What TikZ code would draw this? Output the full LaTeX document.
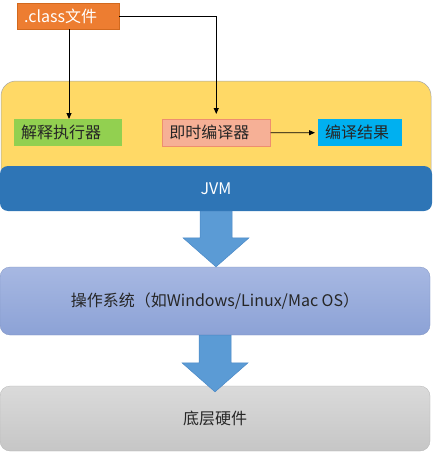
\documentclass[tikz,border=0pt]{standalone}
\usepackage{fontspec}
\setmainfont{Noto Sans CJK SC}
\usetikzlibrary{arrows.meta,calc}
\definecolor{cOrange}{HTML}{ED7D31}
\definecolor{cOrangeD}{HTML}{D2691E}
\definecolor{cYellow}{HTML}{FFD966}
\definecolor{cJVM}{HTML}{2E75B6}
\definecolor{cGreen}{HTML}{92D050}
\definecolor{cSalmon}{HTML}{F6B096}
\definecolor{cSalmonD}{HTML}{EE8E6F}
\definecolor{cCyan}{HTML}{00B0F0}
\definecolor{cArrow}{HTML}{5B9BD5}
\definecolor{cArrowD}{HTML}{4A88C6}
\definecolor{cOSt}{HTML}{A7B8E2}
\definecolor{cOSb}{HTML}{8CA2D6}
\definecolor{cHWt}{HTML}{DADADA}
\definecolor{cHWb}{HTML}{C6C6C6}
\definecolor{cText}{HTML}{262626}
\tikzset{
  smallbox/.style={anchor=north west, inner xsep=7pt, inner ysep=0pt, minimum height=27pt, align=left, font=\fontsize{16}{18}\selectfont, text=cText},
  layer/.style={rounded corners=10pt, inner sep=0pt, font=\fontsize{16}{18}\selectfont, text=cText},
  arr/.style={draw=black, line width=0.9pt, -{Triangle[length=6pt,width=5pt]}},
  fat/.style={fill=cArrow, draw=cArrowD, line width=0.5pt}
}
\newcommand\fatarr[2]{%
  \path[fat] ($(#1)+(-16,0)$) -- ($(#2)+(-16,-29)$) -- ($(#2)+(-33,-29)$) -- (#2)
    -- ($(#2)+(33,-29)$) -- ($(#2)+(16,-29)$) -- ($(#1)+(16,0)$) -- cycle;}
\begin{document}
\begin{tikzpicture}[x=1pt,y=-1pt]
\useasboundingbox (0,0) rectangle (432,452);
% layers
\node[layer, rounded corners=15pt, fill=cYellow, draw=black!35, line width=0.5pt,
  minimum width=430pt, minimum height=129pt] (vmarea) at (216,145.5) {};
\node[layer, rounded corners=8pt, fill=cJVM, text=white,
  minimum width=432pt, minimum height=45pt] (jvm) at (216,188.5) {JVM};
\node[layer, top color=cOSt, bottom color=cOSb, draw=cOSb!90!black, line width=0.3pt,
  minimum width=430pt, minimum height=68pt] (os) at (215,301) {操作系统（如Windows/Linux/Mac OS）};
\node[layer, top color=cHWt, bottom color=cHWb, draw=cHWb!90!black, line width=0.3pt,
  minimum width=430pt, minimum height=65pt] (hw) at (215,418.5) {底层硬件};
% small boxes
\node[smallbox, fill=cOrange, draw=cOrangeD, line width=0.4pt, text=white, text width=88pt, minimum height=26pt] (cls) at (17,3) {.class文件};
\node[smallbox, fill=cGreen, text width=94pt] (interp) at (14,119) {解释执行器};
\node[smallbox, fill=cSalmon, draw=cSalmonD, line width=0.5pt, text width=94pt] (jit) at (162,119) {即时编译器};
\node[smallbox, fill=cCyan, text width=70pt] (res) at (318,119) {编译结果};
% connectors
\draw[arr] ([xshift=52pt]cls.south west) -- ([xshift=55pt]interp.north west);
\draw[arr, shorten >=5pt] (cls.east) -| (jit.north);
\draw[arr, shorten >=3pt] (jit.east) -- (res.west);
% fat arrows
\coordinate (a1s) at (jvm.south);
\coordinate (a1e) at (os.north -| jvm.south);
\fatarr{a1s}{a1e}
\coordinate (a2s) at ($(os.south)+(0,0)$);
\coordinate (a2e) at ($(hw.north)+(0,6)$);
\fatarr{a2s}{a2e}
\end{tikzpicture}
\end{document}
